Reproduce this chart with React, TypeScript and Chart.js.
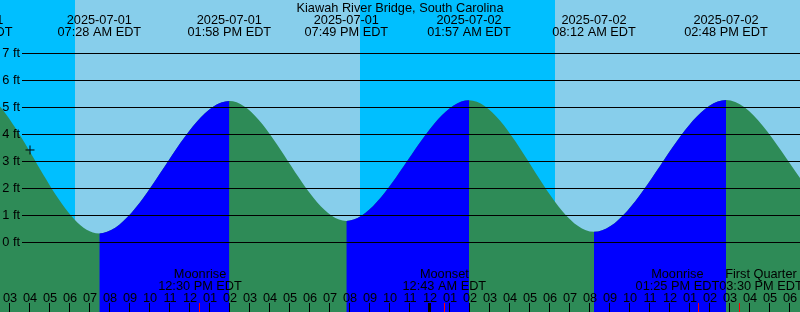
import React, { useEffect, useRef } from 'react';
import { Chart, registerables } from 'chart.js';

Chart.register(...registerables);

const TITLE = 'Kiawah River Bridge, South Carolina';

// Tide extremes (high / low) — times in local EDT
const TIDE_DATES = ['2025-06-30', '2025-07-01', '2025-07-01', '2025-07-01', '2025-07-01', '2025-07-02', '2025-07-02', '2025-07-02', '2025-07-02', '2025-07-03'];
const TIDE_TIMES = ['07:00 PM', '01:02 AM', '07:28 AM', '01:58 PM', '07:49 PM', '01:57 AM', '08:12 AM', '02:48 PM', '08:59 PM', '03:10 AM'];
const TIDE_HEIGHTS = [0.7, 5.75, 0.33, 5.23, 0.79, 5.26, 0.39, 5.27, 0.8, 5.4];

// Sun (night = sunset -> sunrise)
const SUNSET_DATES = ['2025-06-30', '2025-07-01', '2025-07-02'];
const SUNSET_TIMES = ['08:30 PM', '08:30 PM', '08:30 PM'];
const SUNRISE_DATES = ['2025-07-01', '2025-07-02', '2025-07-03'];
const SUNRISE_TIMES = ['06:15 AM', '06:15 AM', '06:16 AM'];

// Moon events
const MOON_DATES = ['2025-07-01', '2025-07-02', '2025-07-02', '2025-07-02'];
const MOON_TIMES = ['12:30 PM', '12:43 AM', '01:25 PM', '03:30 PM'];
const MOON_NAMES = ['Moonrise', 'Moonset', 'Moonrise', 'First Quarter'];

// Current-time marker
const MARKER_DATE = '2025-07-01';
const MARKER_TIME = '04:00 AM';
const MARKER_HEIGHT = 3.42;

// Axis ticks (hours since 2025-07-01 00:00 EDT) and feet
const HOUR_TICKS = [3, 4, 5, 6, 7, 8, 9, 10, 11, 12, 13, 14, 15, 16, 17, 18, 19, 20, 21, 22, 23, 24, 25, 26, 27, 28, 29, 30, 31, 32, 33, 34, 35, 36, 37, 38, 39, 40, 41, 42];
const MIDNIGHT_TICKS = [24];
const FT_TICKS = [0, 1, 2, 3, 4, 5, 6, 7];

const X_MIN = 2.5;
const X_MAX = 42.5;
const Y_MIN = -2.58;
const Y_MAX = 8.974;

const DAY_COLOR = '#87CEEB';
const NIGHT_COLOR = '#00BFFF';
const FALL_COLOR = '#2E8B57';
const RISE_COLOR = '#0000FF';
const FONT = '12.75px "Liberation Sans", Arial, sans-serif';

function toHours(date: string, time: string): number {
  const [y, m, d] = date.split('-').map(Number);
  const dayOff = ((Date.UTC(y, m - 1, d) - Date.UTC(2025, 6, 1)) / 86400000) * 24;
  const [hm, ap] = time.split(' ');
  const [hh, mm] = hm.split(':').map(Number);
  const h = (hh % 12) + (ap === 'PM' ? 12 : 0);
  return dayOff + h + mm / 60;
}

function hourLabel(h: number): string {
  const v = (h % 24) % 12 || 12;
  return String(v).padStart(2, '0');
}

const tidePoints = TIDE_HEIGHTS.map((v, i) => ({ x: toHours(TIDE_DATES[i], TIDE_TIMES[i]), y: v }));

const decorPlugin = {
  id: 'tideDecor',
  beforeDatasetsDraw(chart: any) {
    const { ctx, chartArea, scales } = chart;
    const { left, right, top, bottom } = chartArea;
    const xs = scales.x;
    ctx.save();
    ctx.fillStyle = DAY_COLOR;
    ctx.fillRect(left, top, right - left, bottom - top);
    ctx.fillStyle = NIGHT_COLOR;
    for (let i = 0; i < SUNSET_DATES.length; i++) {
      const a = xs.getPixelForValue(toHours(SUNSET_DATES[i], SUNSET_TIMES[i]));
      const b = xs.getPixelForValue(toHours(SUNRISE_DATES[i], SUNRISE_TIMES[i]));
      const x0 = Math.max(left, Math.round(a));
      const x1 = Math.min(right, Math.round(b));
      if (x1 > x0) ctx.fillRect(x0, top, x1 - x0, bottom - top);
    }
    ctx.restore();
  },
  afterDatasetsDraw(chart: any) {
    const { ctx, chartArea, scales } = chart;
    const { left, right, top, bottom } = chartArea;
    const xs = scales.x;
    const ys = scales.y;
    ctx.save();
    ctx.beginPath();
    ctx.rect(left, top, right - left, bottom - top);
    ctx.clip();

    // horizontal foot lines + labels
    ctx.fillStyle = '#000';
    ctx.font = FONT;
    ctx.textAlign = 'right';
    ctx.textBaseline = 'middle';
    for (const f of FT_TICKS) {
      const py = ys.getPixelForValue(f);
      ctx.fillRect(left + 22, Math.round(py), right - left - 22, 1);
      ctx.fillText(`${f} ft`, left + 20, Math.round(py) + 0.5);
    }

    // title
    ctx.textAlign = 'center';
    ctx.textBaseline = 'alphabetic';
    ctx.fillText(TITLE, (left + right) / 2, 12);

    // tide event labels
    for (let i = 0; i < TIDE_DATES.length; i++) {
      const px = xs.getPixelForValue(toHours(TIDE_DATES[i], TIDE_TIMES[i]));
      if (px + 60 < left || px - 60 > right) continue;
      ctx.fillText(TIDE_DATES[i], px, 24);
      ctx.fillText(`${TIDE_TIMES[i]} EDT`, px, 36);
    }

    // hour labels and ticks
    for (const h of HOUR_TICKS) {
      const px = xs.getPixelForValue(h);
      ctx.fillText(hourLabel(h), px, 302);
      ctx.fillRect(Math.round(px - 0.7), 303, 1, bottom - 303);
    }
    for (const h of MIDNIGHT_TICKS) {
      const px = xs.getPixelForValue(h);
      ctx.fillRect(Math.round(px - 2.5), 303, 3, bottom - 303);
    }

    // moon labels with simple overlap resolution
    const items = MOON_NAMES.map((name, i) => {
      const t = toHours(MOON_DATES[i], MOON_TIMES[i]);
      const px = xs.getPixelForValue(t);
      const l2 = `${MOON_TIMES[i]} EDT`;
      const w = Math.max(ctx.measureText(name).width, ctx.measureText(l2).width);
      return { px, name, l2, w, c: px };
    });
    items.sort((a, b) => a.px - b.px);
    for (let i = 1; i < items.length; i++) {
      const p = items[i - 1];
      const q = items[i];
      const overlap = p.c + p.w / 2 - (q.c - q.w / 2);
      if (overlap > 0) {
        p.c -= overlap / 2;
        q.c += overlap / 2;
      }
    }
    for (const it of items) {
      ctx.fillStyle = '#000';
      ctx.fillText(it.name, it.c, 278);
      ctx.fillText(it.l2, it.c, 290);
      ctx.fillStyle = '#FF0000';
      ctx.fillRect(Math.round(it.px - 0.7), 303, 1, bottom - 303);
    }
    ctx.restore();
  },
};

export default function App() {
  const canvasRef = useRef<HTMLCanvasElement | null>(null);

  useEffect(() => {
    document.body.style.margin = '0';
    const canvas = canvasRef.current;
    if (!canvas) return;
    const chart = new Chart(canvas, {
      type: 'line',
      data: {
        datasets: [
          {
            type: 'scatter',
            data: [{ x: toHours(MARKER_DATE, MARKER_TIME), y: MARKER_HEIGHT }],
            pointStyle: 'cross',
            pointRadius: 4.5,
            borderColor: '#000000',
            backgroundColor: '#000000',
            borderWidth: 1,
            showLine: false,
          } as any,
          {
            // rising (flood) portions drawn on top in blue
            data: tidePoints,
            cubicInterpolationMode: 'monotone',
            borderWidth: 0,
            borderColor: 'rgba(0,0,0,0)',
            pointRadius: 0,
            fill: 'start',
            backgroundColor: 'rgba(0,0,0,0)',
            segment: {
              backgroundColor: (c: any) => (c.p1.parsed.y > c.p0.parsed.y ? RISE_COLOR : 'rgba(0,0,0,0)'),
            },
          } as any,
          {
            // full tide area in green underneath
            data: tidePoints,
            cubicInterpolationMode: 'monotone',
            borderWidth: 0,
            borderColor: 'rgba(0,0,0,0)',
            pointRadius: 0,
            fill: 'start',
            backgroundColor: FALL_COLOR,
          } as any,
        ],
      },
      options: {
        animation: false,
        responsive: false,
        maintainAspectRatio: false,
        events: [],
        layout: { padding: 0, autoPadding: false },
        scales: {
          x: { type: 'linear', min: X_MIN, max: X_MAX, display: false },
          y: { type: 'linear', min: Y_MIN, max: Y_MAX, display: false },
        },
        plugins: {
          legend: { display: false },
          tooltip: { enabled: false },
        },
      },
      plugins: [decorPlugin],
    });
    return () => chart.destroy();
  }, []);

  return (
    <div style={{ width: 800, height: 312, margin: 0, padding: 0 }}>
      <canvas ref={canvasRef} width={800} height={312} style={{ display: 'block' }} />
    </div>
  );
}
